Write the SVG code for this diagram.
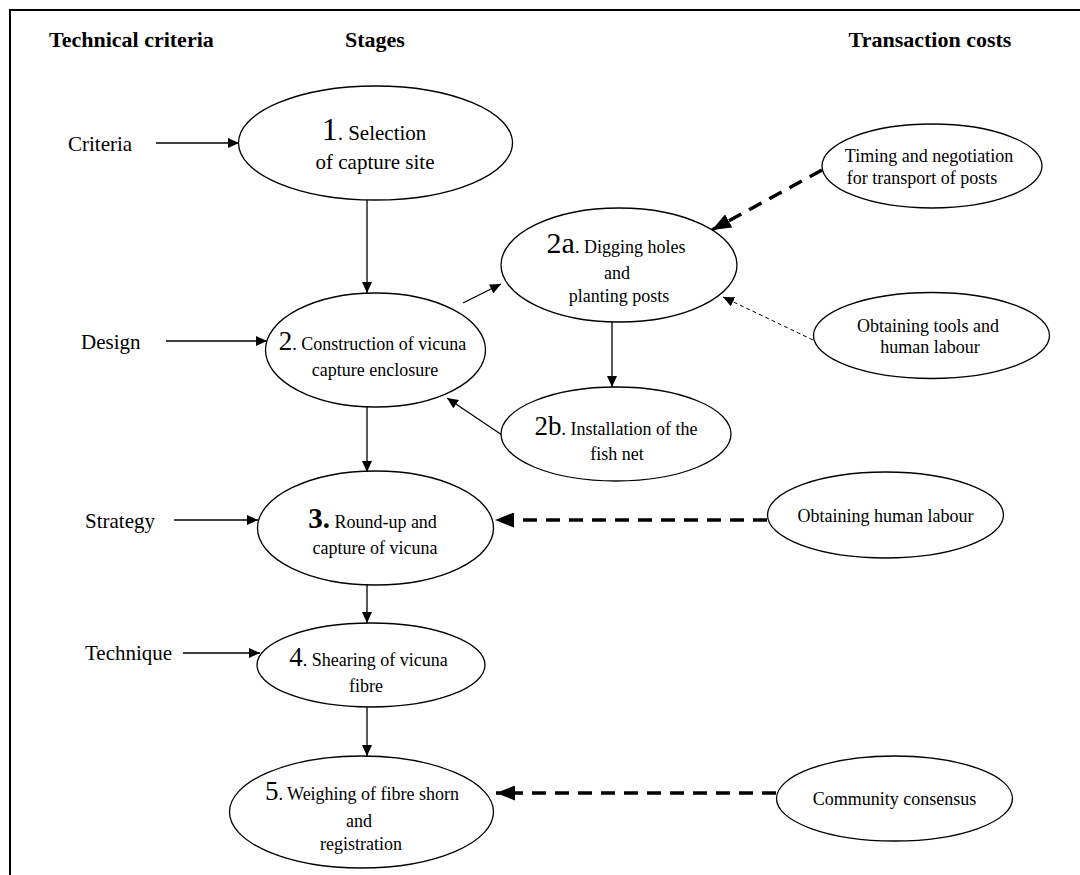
<svg xmlns="http://www.w3.org/2000/svg" width="1080" height="875" viewBox="0 0 1080 875">
<style>
text{font-family:"Liberation Serif","Times New Roman",serif;fill:#000}
.h{font-size:22px;font-weight:bold}
.l{font-size:21px}
.t{font-size:18px;text-anchor:middle}
.t21{font-size:21px}
.n1{font-size:32px}
.n{font-size:27px}
.nb{font-size:29px;font-weight:bold}
ellipse{fill:#fff;stroke:#000;stroke-width:1.3}
.c{fill:none;stroke:#000;stroke-width:1.3}
.d{fill:none;stroke:#000;stroke-width:1;stroke-dasharray:4 3}
.D{fill:none;stroke:#000;stroke-width:3.5;stroke-dasharray:14 9}
</style>
<defs>
<marker id="a" markerUnits="userSpaceOnUse" markerWidth="11" markerHeight="10" refX="11" refY="5" orient="auto"><path d="M0,0 L11,5 L0,10 z" fill="#000"/></marker>
<marker id="b" markerUnits="userSpaceOnUse" markerWidth="19" markerHeight="15" refX="19" refY="7.5" orient="auto"><path d="M0,0 L19,7.5 L0,15 z" fill="#000"/></marker>
</defs>
<rect width="1080" height="875" fill="#fff"/>
<path d="M10,875 V10 H1080" fill="none" stroke="#000" stroke-width="2"/>
<g id="headers">
<text class="h" x="49" y="47">Technical criteria</text>
<text class="h" x="375" y="47" text-anchor="middle">Stages</text>
<text class="h" x="930" y="47" text-anchor="middle">Transaction costs</text>
</g>
<g id="labels">
<text class="l" x="68" y="151">Criteria</text>
<text class="l" x="81" y="349">Design</text>
<text class="l" x="85" y="528">Strategy</text>
<text class="l" x="85" y="660">Technique</text>
</g>
<g id="connectors">
<path class="c" d="M156,143 H239" marker-end="url(#a)"/>
<path class="c" d="M166,341 H267" marker-end="url(#a)"/>
<path class="c" d="M174,520 H258" marker-end="url(#a)"/>
<path class="c" d="M183,653 H260" marker-end="url(#a)"/>
<path class="c" d="M367,200 V293" marker-end="url(#a)"/>
<path class="c" d="M367,407 V472" marker-end="url(#a)"/>
<path class="c" d="M367,585 V623" marker-end="url(#a)"/>
<path class="c" d="M367,707 V756" marker-end="url(#a)"/>
<path class="c" d="M463,303 L501,284" marker-end="url(#a)"/>
<path class="c" d="M612,322 V387" marker-end="url(#a)"/>
<path class="c" d="M502,435 L447,398" marker-end="url(#a)"/>
<path class="D" d="M822,170 L712,230" marker-end="url(#b)"/>
<path class="d" d="M813,340 L723,297" marker-end="url(#a)"/>
<path class="D" d="M767,520 L495,520" marker-end="url(#b)"/>
<path class="D" d="M776,793 L496,793" marker-end="url(#b)"/>
</g>
<g id="n1">
<ellipse cx="375.5" cy="143" rx="137" ry="57"/>
<text class="t t21" x="374" y="140"><tspan class="n1">1</tspan>. Selection</text>
<text class="t t21" x="375" y="169">of capture site</text>
</g>
<g id="n2">
<ellipse cx="375.5" cy="350" rx="110" ry="57"/>
<text class="t" x="372.5" y="350"><tspan class="n">2</tspan>. Construction of vicuna</text>
<text class="t" x="375" y="376">capture enclosure</text>
</g>
<g id="n2a">
<ellipse cx="619" cy="265" rx="118" ry="57"/>
<text class="t" x="616" y="253"><tspan style="font-size:30px">2a</tspan>. Digging holes</text>
<text class="t" x="617" y="279">and</text>
<text class="t" x="619" y="302">planting posts</text>
</g>
<g id="n2b">
<ellipse cx="616" cy="434" rx="115" ry="47"/>
<text class="t" x="616" y="435"><tspan class="n">2b</tspan>. Installation of the</text>
<text class="t" x="617" y="460">fish net</text>
</g>
<g id="n3">
<ellipse cx="375.5" cy="528" rx="118" ry="57"/>
<text class="t" x="372.5" y="528"><tspan class="nb">3.</tspan> Round-up and</text>
<text class="t" x="375" y="554">capture of vicuna</text>
</g>
<g id="n4">
<ellipse cx="371" cy="665" rx="114" ry="42"/>
<text class="t" x="368.5" y="666"><tspan class="n">4</tspan>. Shearing of vicuna</text>
<text class="t" x="366" y="692">fibre</text>
</g>
<g id="n5">
<ellipse cx="361.5" cy="812" rx="132" ry="56"/>
<text class="t" x="362" y="800"><tspan class="n">5</tspan>. Weighing of fibre shorn</text>
<text class="t" x="359" y="827">and</text>
<text class="t" x="361" y="850">registration</text>
</g>
<g id="tc1">
<ellipse cx="932" cy="166" rx="110" ry="42"/>
<text class="t" x="929" y="162">Timing and negotiation</text>
<text class="t" x="922" y="184">for transport of posts</text>
</g>
<g id="tc2">
<ellipse cx="931.5" cy="335.5" rx="118" ry="43"/>
<text class="t" x="928" y="332">Obtaining tools and</text>
<text class="t" x="930" y="353">human labour</text>
</g>
<g id="tc3">
<ellipse cx="885.5" cy="515" rx="118" ry="43"/>
<text class="t" x="885.5" y="522">Obtaining human labour</text>
</g>
<g id="tc4">
<ellipse cx="894.5" cy="798.5" rx="118" ry="42.5"/>
<text class="t" x="894.5" y="805">Community consensus</text>
</g>
</svg>
